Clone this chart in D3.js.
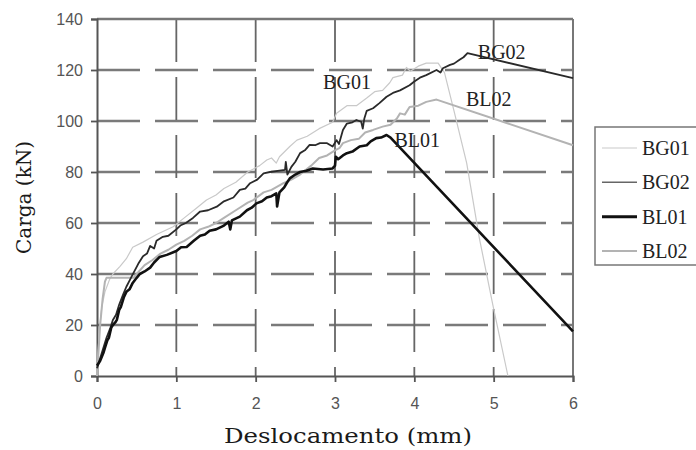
<!DOCTYPE html>
<html>
<head>
<meta charset="utf-8">
<script src="https://cdn.jsdelivr.net/npm/d3@7"></script>
<style>
  body { margin: 0; background: #fff; }
  svg { display: block; }
</style>
</head>
<body>
<svg width="696" height="450"></svg>
<script>
// values: [deslocamento (mm), carga (kN)]
var bg01 = [[0,0],[0.01,8],[0.03,18],[0.06,27],[0.1,33],[0.16,38],[0.2,40],[0.29,43],[0.37,46],[0.45,50.5],[0.58,52.5],[0.75,55.5],[0.96,58.5],[1.1,62],[1.26,66],[1.38,69],[1.5,71],[1.6,73.5],[1.75,76],[1.9,80],[2.05,82.5],[2.14,84.7],[2.2,85.5],[2.26,83.5],[2.3,86],[2.43,90],[2.52,92.5],[2.65,94],[2.8,97],[2.97,99.5],[3.02,103],[3.15,106],[3.27,106],[3.4,109],[3.5,111.5],[3.6,112],[3.69,115],[3.73,117],[3.85,118],[3.9,121],[3.95,119.5],[4.05,121.5],[4.15,122.7],[4.3,122.7],[4.38,119],[4.5,104],[4.66,83.5],[4.82,54],[4.99,27.8],[5.18,0]];

var bg02 = [[0,3],[0.03,6],[0.07,10],[0.12,15],[0.17,19],[0.2,22],[0.24,24],[0.28,28],[0.33,32],[0.37,35],[0.42,38],[0.47,41],[0.52,44],[0.58,47],[0.63,48],[0.67,51],[0.72,50],[0.75,53],[0.83,54.6],[0.9,55],[1.0,57.5],[1.05,59],[1.12,60],[1.21,62],[1.3,64.5],[1.4,65],[1.51,66.4],[1.6,68.5],[1.72,70],[1.8,73],[1.87,73.5],[1.93,75.6],[2.02,77],[2.1,79.5],[2.18,80],[2.3,80.5],[2.37,80.8],[2.38,84],[2.4,79],[2.45,82],[2.5,84],[2.56,87.4],[2.62,88.5],[2.68,90.6],[2.75,90.5],[2.81,91.3],[2.9,91.3],[2.97,90],[3.02,92.5],[3.05,91],[3.1,96.5],[3.15,99],[3.22,99.5],[3.27,100.4],[3.33,99.7],[3.35,97],[3.37,101],[3.4,104],[3.48,105],[3.56,107],[3.65,109.5],[3.73,111],[3.82,112],[3.94,114],[4.0,115.5],[4.07,117],[4.15,118],[4.28,120],[4.33,119],[4.36,120.7],[4.45,122],[4.5,122.5],[4.57,124],[4.62,125],[4.67,126.6],[6,116.8]];

var bl01 = [[0,4],[0.04,6],[0.08,9],[0.1,11],[0.13,14],[0.15,15],[0.18,19],[0.2,20],[0.23,21],[0.25,22],[0.28,26],[0.3,27],[0.34,31],[0.37,33],[0.41,34],[0.45,36.5],[0.5,38.5],[0.54,40],[0.6,41],[0.67,42.5],[0.72,44.5],[0.79,46.7],[0.88,47.5],[1.0,49],[1.06,50.5],[1.13,50.6],[1.22,53],[1.3,55],[1.36,55.5],[1.42,57],[1.5,57.5],[1.6,59],[1.66,60.5],[1.68,57.5],[1.7,61],[1.8,62.5],[1.89,65],[1.95,66],[2.01,67.7],[2.08,68.5],[2.14,70],[2.2,70.5],[2.26,71.6],[2.27,66.5],[2.3,72],[2.36,74],[2.39,75.6],[2.43,77.5],[2.5,79],[2.56,80],[2.64,80.5],[2.72,81.4],[2.85,81],[2.97,81.4],[3.0,82.5],[3.01,86],[3.04,85],[3.1,86.5],[3.15,87.4],[3.22,88],[3.31,90],[3.4,90.5],[3.45,92],[3.52,93.3],[3.58,93.5],[3.65,94.5],[3.7,93.5],[6,17.5]];

var bl02 = [[0,0],[0.02,10],[0.04,20],[0.07,30],[0.1,37],[0.12,38.5],[0.3,38.5],[0.46,38.5],[0.5,40],[0.6,43.5],[0.7,45.5],[0.8,48],[0.9,49.5],[1.0,51.5],[1.1,53],[1.2,55],[1.3,57.5],[1.4,58.5],[1.5,60],[1.6,62],[1.75,65],[1.9,68],[1.97,69],[2.1,72],[2.2,73],[2.35,75.6],[2.45,77],[2.56,79],[2.7,82.5],[2.8,85.5],[2.9,86.5],[3.0,88.5],[3.06,89.5],[3.1,91.3],[3.2,92.5],[3.3,93],[3.38,95.5],[3.48,96.5],[3.6,97.8],[3.7,98.5],[3.78,101],[3.82,103],[3.88,102.5],[3.94,105.5],[4.05,106],[4.15,107.5],[4.28,108.4],[6,90.5]];

var seriesNames = ["BG01", "BG02", "BL01", "BL02"];
var xTicks = [0, 1, 2, 3, 4, 5, 6];
var yTicks = [0, 20, 40, 60, 80, 100, 120, 140];

// curve labels placed where the picture puts them
var curveLabels = [
  { name: "BG01", x: 2.85, y: 112.5 },
  { name: "BG02", x: 4.8, y: 124.5 },
  { name: "BL02", x: 4.65, y: 106 },
  { name: "BL01", x: 3.75, y: 90 }
];

var svg = d3.select("svg");
var margin = { top: 19, left: 97 };
var width = 476, height = 357;

var x = d3.scaleLinear().domain([0, 6]).range([margin.left, margin.left + width]);
var y = d3.scaleLinear().domain([0, 140]).range([margin.top + height, margin.top]);

// grid (excel style dashes, start at left / top)
svg.append("g")
  .selectAll("line")
  .data(yTicks.filter(function(d) { return d > 0 && d < 140; }))
  .join("line")
  .attr("x1", x(0)).attr("x2", x(6))
  .attr("y1", function(d) { return y(d); })
  .attr("y2", function(d) { return y(d); })
  .attr("stroke", "#7a7a7a")
  .attr("stroke-width", 2.4)
  .attr("stroke-dasharray", "43,15");

svg.append("g")
  .selectAll("line")
  .data(xTicks.filter(function(d) { return d > 0 && d < 6; }))
  .join("line")
  .attr("x1", function(d) { return x(d); })
  .attr("x2", function(d) { return x(d); })
  .attr("y1", y(140)).attr("y2", y(0))
  .attr("stroke", "#666")
  .attr("stroke-width", 1.8)
  .attr("stroke-dasharray", "43,15");

// frame top / right
svg.append("line")
  .attr("x1", x(0)).attr("x2", x(6)).attr("y1", y(140)).attr("y2", y(140))
  .attr("stroke", "#777").attr("stroke-width", 2.4);
svg.append("line")
  .attr("x1", x(6)).attr("x2", x(6)).attr("y1", y(140)).attr("y2", y(0))
  .attr("stroke", "#777").attr("stroke-width", 2);

// axes
var xAxis = svg.append("g")
  .attr("transform", "translate(0," + y(0) + ")")
  .call(d3.axisBottom(x).tickValues(xTicks).tickSize(6).tickPadding(16).tickFormat(d3.format("d")));
var yAxis = svg.append("g")
  .attr("transform", "translate(" + x(0) + ",0)")
  .call(d3.axisLeft(y).tickValues(yTicks).tickSize(6).tickPadding(8).tickFormat(d3.format("d")));

[xAxis, yAxis].forEach(function(g) {
  g.select(".domain").attr("stroke", "#555").attr("stroke-width", 2);
  g.selectAll(".tick line").attr("stroke", "#555").attr("stroke-width", 1.8);
  g.selectAll(".tick text")
    .attr("fill", "#555")
    .style("font-family", "'Liberation Sans', Arial, sans-serif")
    .style("font-size", "16px");
});

// curves
var line = d3.line()
  .x(function(d) { return x(d[0]); })
  .y(function(d) { return y(d[1]); });

var styles = {
  BG01: { color: "#c9c9c9", w: 1.2 },
  BG02: { color: "#2a2a2a", w: 1.8 },
  BL01: { color: "#111", w: 2.6 },
  BL02: { color: "#b3b3b3", w: 2 }
};
var drawOrder = [["BG01", bg01], ["BL02", bl02], ["BG02", bg02], ["BL01", bl01]];

svg.append("g")
  .selectAll("path")
  .data(drawOrder)
  .join("path")
  .attr("d", function(d) { return line(d[1]); })
  .attr("fill", "none")
  .attr("stroke", function(d) { return styles[d[0]].color; })
  .attr("stroke-width", function(d) { return styles[d[0]].w; })
  .attr("stroke-linejoin", "round");

svg.append("g")
  .selectAll("text")
  .data(curveLabels)
  .join("text")
  .attr("x", function(d) { return x(d.x); })
  .attr("y", function(d) { return y(d.y); })
  .attr("fill", "#222")
  .style("font-family", "'Liberation Serif', 'Times New Roman', serif")
  .style("font-size", "20px")
  .text(function(d) { return d.name; });

// axis titles
svg.append("text")
  .attr("x", 348).attr("y", 443)
  .attr("text-anchor", "middle")
  .attr("textLength", 248)
  .attr("lengthAdjust", "spacingAndGlyphs")
  .attr("fill", "#1a1a1a")
  .style("font-family", "'DejaVu Serif', serif")
  .style("font-size", "20px")
  .text("Deslocamento (mm)");

svg.append("text")
  .attr("transform", "translate(31," + y(70) + ") rotate(-90)")
  .attr("text-anchor", "middle")
  .attr("fill", "#1a1a1a")
  .style("font-family", "'DejaVu Serif', serif")
  .style("font-size", "20px")
  .text("Carga (kN)");

// legend
var legend = svg.append("g");
legend.append("rect")
  .attr("x", 595).attr("y", 127).attr("width", 120).attr("height", 138)
  .attr("fill", "#fff").attr("stroke", "#777").attr("stroke-width", 1.5);

var legendY = d3.scalePoint().domain(seriesNames).range([148, 251]);
var items = legend.selectAll("g.item")
  .data(seriesNames)
  .join("g")
  .attr("class", "item")
  .attr("transform", function(d) { return "translate(0," + legendY(d) + ")"; });
items.append("line")
  .attr("x1", 602).attr("x2", 637)
  .attr("stroke", function(d) { return d === "BG02" ? "#666" : styles[d].color; })
  .attr("stroke-width", function(d) { return d === "BL01" ? 3 : (d === "BG02" ? 1.5 : styles[d].w); });
items.append("text")
  .attr("x", 642).attr("dy", "0.35em")
  .attr("fill", "#222")
  .style("font-family", "'Liberation Serif', 'Times New Roman', serif")
  .style("font-size", "20px")
  .text(function(d) { return d; });
</script>
</body>
</html>
